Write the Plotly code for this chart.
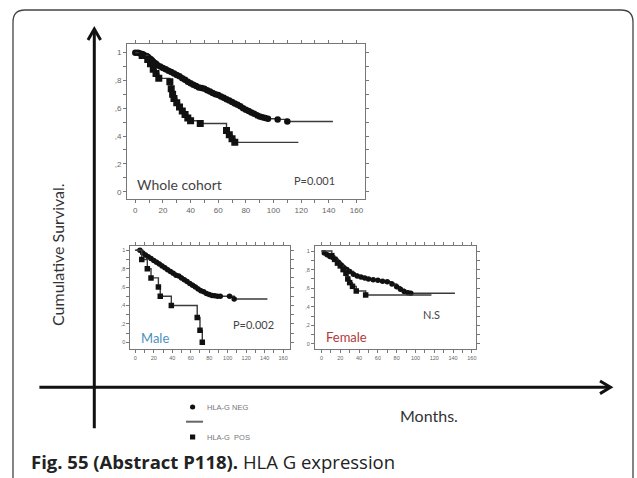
import plotly.graph_objects as go

W, H = 637, 478

def px(x):
    return x / W

def py(y):
    return 1 - y / H

# ---------------- data ----------------
# Whole cohort
whole_neg_t = [0, 2, 3, 5, 6, 8, 9, 10, 11, 12, 13, 14, 15, 16, 18, 20, 22, 24, 26, 28, 30, 32, 34, 36,
               38, 40, 42, 44, 46, 48, 50, 52, 54, 56, 58, 60, 62, 64, 66, 68, 70, 72, 74, 76, 78, 80,
               82, 84, 86, 88, 90, 92, 94, 96, 103, 110]
whole_neg_s = [1.00, 1.00, 0.995, 0.99, 0.985, 0.975, 0.97, 0.96, 0.955, 0.945, 0.935, 0.925, 0.92, 0.91,
               0.90, 0.89, 0.88, 0.87, 0.86, 0.85, 0.84, 0.83, 0.815, 0.805, 0.79, 0.78, 0.77, 0.76, 0.75,
               0.745, 0.74, 0.73, 0.72, 0.71, 0.70, 0.695, 0.685, 0.675, 0.665, 0.655, 0.645, 0.635, 0.625,
               0.615, 0.60, 0.59, 0.58, 0.57, 0.56, 0.55, 0.54, 0.535, 0.53, 0.525, 0.52, 0.505]
whole_neg_end = 143
whole_pos_t = [0, 5, 9, 11, 13, 15, 17, 25, 26, 27, 28, 30, 32, 34, 36, 38, 40, 47, 66, 68, 70, 72]
whole_pos_s = [1.0, 0.98, 0.95, 0.92, 0.88, 0.85, 0.815, 0.79, 0.74, 0.70, 0.67, 0.64, 0.61, 0.58, 0.555,
               0.53, 0.51, 0.49, 0.44, 0.41, 0.38, 0.355]
whole_pos_end = 118

# Male
male_neg_t = [0, 5, 8, 11, 14, 17, 20, 23, 26, 29, 32, 35, 38, 41, 44, 47, 50, 53, 56, 59, 62, 65, 68,
              71, 74, 77, 80, 83, 86, 89, 92, 102, 107]
male_neg_s = [1.0, 1.0, 0.97, 0.95, 0.93, 0.91, 0.89, 0.87, 0.85, 0.83, 0.81, 0.79, 0.77, 0.75, 0.73,
              0.72, 0.70, 0.68, 0.66, 0.64, 0.62, 0.60, 0.58, 0.56, 0.55, 0.53, 0.52, 0.51, 0.505, 0.50,
              0.50, 0.50, 0.47]
male_neg_end = 143
male_pos_t = [0, 7, 13, 17, 25, 27, 39, 67, 70, 72.5]
male_pos_s = [1.0, 0.9, 0.8, 0.7, 0.6, 0.5, 0.4, 0.27, 0.13, 0.0]

# Female
female_neg_t = [0, 3, 6, 9, 12, 15, 18, 21, 24, 27, 30, 34, 38, 42, 46, 50, 55, 60, 65, 70, 75, 80,
                84, 88, 92, 95]
female_neg_s = [1.0, 0.98, 0.96, 0.94, 0.93, 0.91, 0.88, 0.85, 0.82, 0.80, 0.78, 0.75, 0.73, 0.72,
                0.71, 0.70, 0.69, 0.685, 0.675, 0.67, 0.645, 0.615, 0.59, 0.565, 0.55, 0.545]
female_neg_end = 142
female_pos_t = [0, 11, 14, 17, 20, 23, 26, 28, 30, 33, 37, 47]
female_pos_s = [1.0, 0.95, 0.91, 0.87, 0.84, 0.80, 0.76, 0.70, 0.66, 0.62, 0.57, 0.527]
female_pos_end = 117

x_ticks = [0, 20, 40, 60, 80, 100, 120, 140, 160]
y_ticks = [0, 0.2, 0.4, 0.6, 0.8, 1.0]
y_ticktext = ["0", ",2", ",4", ",6", ",8", "1"]

# ---------------- figure ----------------
fig = go.Figure()

LINE = "#3a3a3a"


def add_km(t, s, end, xa, ya, symbol, msize, skip_first=True):
    xs = list(t) + [end]
    ys = list(s) + [s[-1]]
    fig.add_trace(go.Scatter(x=xs, y=ys, mode="lines", line=dict(shape="hv", color=LINE, width=1.4),
                             xaxis=xa, yaxis=ya, showlegend=False, hoverinfo="skip"))
    mt = t[1:] if skip_first else t
    ms = s[1:] if skip_first else s
    fig.add_trace(go.Scatter(x=mt, y=ms, mode="markers",
                             marker=dict(symbol=symbol, size=msize, color="#111"),
                             xaxis=xa, yaxis=ya, showlegend=False, hoverinfo="skip"))


add_km(whole_neg_t, whole_neg_s, whole_neg_end, "x", "y", "circle", 6.5, skip_first=False)
add_km(whole_pos_t, whole_pos_s, whole_pos_end, "x", "y", "square", 7)
add_km(male_neg_t, male_neg_s, male_neg_end, "x2", "y2", "circle", 5.5)
add_km(male_pos_t, male_pos_s, male_pos_t[-1], "x2", "y2", "square", 5.5)
add_km(female_neg_t, female_neg_s, female_neg_end, "x3", "y3", "circle", 5.5)
add_km(female_pos_t, female_pos_s, female_pos_end, "x3", "y3", "square", 5.5)


def xax(domain, rng, fs):
    return dict(domain=domain, range=rng, showline=True, linecolor="#777", linewidth=1,
                mirror="allticks", ticks="outside", ticklen=3, tickcolor="#777",
                tickvals=x_ticks, ticktext=[str(v) for v in x_ticks],
                tickfont=dict(size=fs, color="#666", family="Liberation Sans"),
                minor=dict(ticks="outside", ticklen=3, dtick=10, tick0=0, tickcolor="#777"),
                showgrid=False, zeroline=False, fixedrange=True)


def yax(domain, rng, fs, anchor):
    return dict(domain=domain, range=rng, showline=True, linecolor="#777", linewidth=1,
                mirror="allticks", ticks="outside", ticklen=3, tickcolor="#777",
                tickvals=y_ticks, ticktext=y_ticktext,
                tickfont=dict(size=fs, color="#666", family="Liberation Sans"),
                minor=dict(ticks="outside", ticklen=3, dtick=0.1, tick0=0, tickcolor="#777"),
                showgrid=False, zeroline=False, anchor=anchor, fixedrange=True)


fig.update_layout(
    width=W, height=H, margin=dict(l=0, r=0, t=0, b=0),
    paper_bgcolor="white", plot_bgcolor="white",
    xaxis=dict(xax([px(127), px(365)], [-6.0, 166.2], 8), anchor="y"),
    yaxis=yax([py(199), py(44.3)], [-0.0525, 1.060], 8, "x"),
    xaxis2=dict(xax([px(130.4), px(289.7)], [-5.3, 167.1], 5.5), anchor="y2"),
    yaxis2=yax([py(349), py(246)], [-0.073, 1.047], 5.5, "x2"),
    xaxis3=dict(xax([px(315), px(476)], [-6.9, 164.4], 5.5), anchor="y3"),
    yaxis3=yax([py(349), py(246)], [-0.054, 1.054], 5.5, "x3"),
)

TXT = "Lato"
ann = []


def text(x, y, s, size, color="#444", xanchor="left", yanchor="middle", family=TXT, angle=0):
    ann.append(dict(x=px(x), y=py(y), xref="paper", yref="paper", text=s, showarrow=False,
                    xanchor=xanchor, yanchor=yanchor, textangle=angle,
                    font=dict(size=size, color=color, family=family)))


text(135, 184, "Whole cohort", 14)
text(292, 180, "P=0.001", 11)
text(139, 338, "Male", 13, color="#4a8fc2")
text(231, 324, "P=0.002", 11)
text(324, 337, "Female", 13, color="#b03a3a")
text(421, 314, "N.S", 11)
text(57, 255, "Cumulative Survival.", 16, color="#333", xanchor="center", angle=-90)
text(398, 415, "Months.", 16, color="#333")
text(205, 407, "HLA-G NEG", 7.5, color="#777", family="Liberation Sans")
text(205, 437, "HLA-G  POS", 7.5, color="#777", family="Liberation Sans")
text(29, 461, "<b>Fig. 55 (Abstract P118).</b> HLA G expression", 18.5, color="#222", family="Open Sans")
fig.update_layout(annotations=ann)


def path(points):
    return "M " + " L ".join(f"{px(x):.5f},{py(y):.5f}" for x, y in points)


shapes = []
# big axes
shapes.append(dict(type="line", xref="paper", yref="paper", x0=px(94.3), y0=py(428.3), x1=px(94.3),
                   y1=py(30), line=dict(color="#111", width=3)))
shapes.append(dict(type="path", xref="paper", yref="paper",
                   path=path([(88, 40), (94.3, 29), (100.6, 40)]), line=dict(color="#111", width=3)))
shapes.append(dict(type="line", xref="paper", yref="paper", x0=px(39.4), y0=py(387.3), x1=px(609),
                   y1=py(387.3), line=dict(color="#111", width=3)))
shapes.append(dict(type="path", xref="paper", yref="paper",
                   path=path([(600, 381), (610.5, 387.3), (600, 393.6)]), line=dict(color="#111", width=3)))
# outer rounded frame
r = 12
frame = (f"M {px(13):.5f},{py(478):.5f} L {px(13):.5f},{py(10 + r):.5f} "
         f"Q {px(13):.5f},{py(10):.5f} {px(13 + r):.5f},{py(10):.5f} "
         f"L {px(633 - r):.5f},{py(10):.5f} Q {px(633):.5f},{py(10):.5f} {px(633):.5f},{py(10 + r):.5f} "
         f"L {px(633):.5f},{py(478):.5f}")
shapes.append(dict(type="path", xref="paper", yref="paper", path=frame, line=dict(color="#444", width=1.3)))
# legend symbols
shapes.append(dict(type="circle", xref="paper", yref="paper", x0=px(190), y0=py(404.5), x1=px(195.2),
                   y1=py(409.5), fillcolor="#111", line=dict(width=0)))
shapes.append(dict(type="line", xref="paper", yref="paper", x0=px(186), y0=py(421.7), x1=px(203),
                   y1=py(421.7), line=dict(color="#666", width=2)))
shapes.append(dict(type="rect", xref="paper", yref="paper", x0=px(190), y0=py(434.5), x1=px(195.2),
                   y1=py(439.5), fillcolor="#111", line=dict(width=0)))
fig.update_layout(shapes=shapes)

fig.write_html("out.html", config={"displayModeBar": False},
               post_script="document.body.style.margin='0';document.body.style.padding='0';"
                           "document.documentElement.style.overflow='hidden';")
